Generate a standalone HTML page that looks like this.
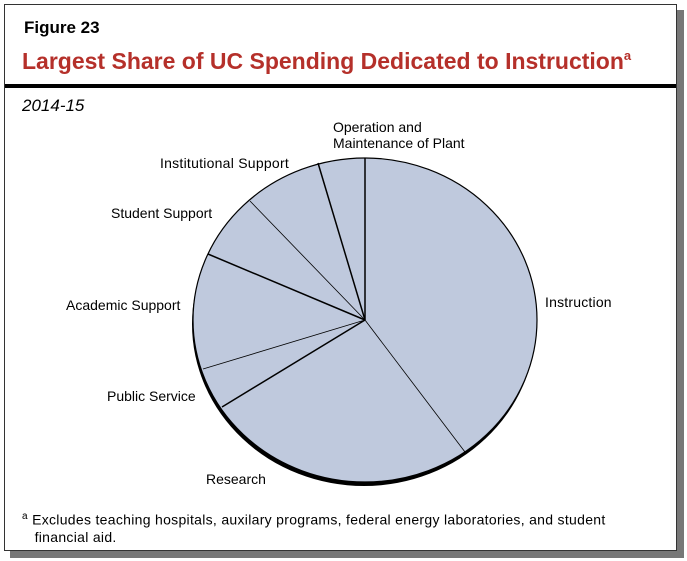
<!DOCTYPE html>
<html><head><style>
body{margin:0;width:687px;height:561px;background:#fff;font-family:"Liberation Sans",Arial,sans-serif;position:relative;overflow:hidden}
.shadow{position:absolute;left:10px;top:10px;width:674px;height:548px;background:#777}
.box{position:absolute;left:4px;top:4px;width:671px;height:545px;border:1px solid #333;background:#fff}
.t{position:absolute;white-space:nowrap;color:#000}
</style></head><body>
<div class="shadow"></div>
<div class="box"></div>
<div class="t" style="left:24px;top:18px;font-size:17px;font-weight:bold">Figure 23</div>
<div class="t" style="left:22px;top:48px;font-size:23px;font-weight:bold;color:#b5302a">Largest Share of UC Spending Dedicated to Instruction<sup style="font-size:13px;vertical-align:9px">a</sup></div>
<div style="position:absolute;left:5px;top:84px;width:671px;height:4px;background:#000"></div>
<div class="t" style="left:22px;top:96px;font-size:17px;font-style:italic">2014-15</div>
<svg style="position:absolute;left:0;top:0" width="687" height="561">
<ellipse cx="364" cy="324" rx="172" ry="162" fill="#000"/>
<ellipse cx="365" cy="320" rx="172" ry="162" fill="#bfc9dd" stroke="#000" stroke-width="1.2"/>
<g stroke="#000">
<line x1="365" y1="320" x2="365" y2="158" stroke-width="1.5"/>
<line x1="365" y1="320" x2="465" y2="452" stroke-width="0.8"/>
<line x1="365" y1="320" x2="222" y2="407" stroke-width="1.5"/>
<line x1="365" y1="320" x2="203" y2="369" stroke-width="0.8"/>
<line x1="365" y1="320" x2="208" y2="254" stroke-width="1.5"/>
<line x1="365" y1="320" x2="250" y2="201" stroke-width="0.8"/>
<line x1="365" y1="320" x2="318" y2="163" stroke-width="1.5"/>
</g>
</svg>
<div class="t" style="left:333px;top:119px;font-size:14px;line-height:16px">Operation and<br>Maintenance of Plant</div>
<div class="t" style="left:160px;top:155px;font-size:14px;letter-spacing:0.25px">Institutional Support</div>
<div class="t" style="left:111px;top:205px;font-size:14px">Student Support</div>
<div class="t" style="left:66px;top:297px;font-size:14px">Academic Support</div>
<div class="t" style="left:107px;top:388px;font-size:14px">Public Service</div>
<div class="t" style="left:206px;top:471px;font-size:14px">Research</div>
<div class="t" style="left:545px;top:294px;font-size:14px;letter-spacing:0.2px">Instruction</div>
<div class="t" style="left:22px;top:508px;font-size:14px;line-height:17px;letter-spacing:0.3px"><sup style="font-size:10px">a</sup> Excludes teaching hospitals, auxilary programs, federal energy laboratories, and student<br>&nbsp;&nbsp;&nbsp;financial aid.</div>
</body></html>
